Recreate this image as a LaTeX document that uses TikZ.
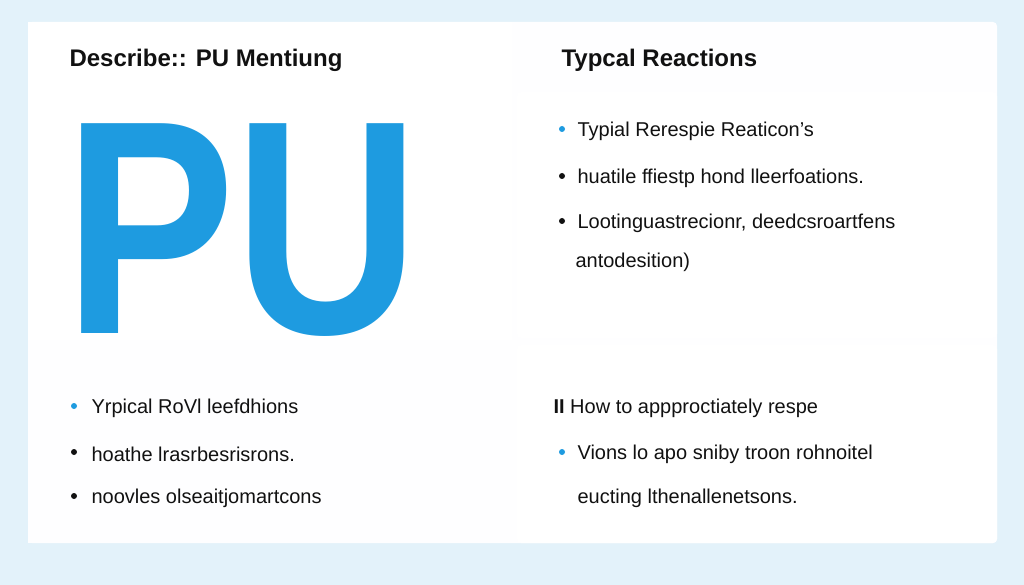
\documentclass[tikz,border=0pt]{standalone}
\usepackage{fontspec}
\setmainfont{Liberation Sans}
\definecolor{bg}{HTML}{E3F2FA}
\definecolor{dot}{HTML}{1E9BE0}
\definecolor{txt}{HTML}{111111}
\tikzset{
 panel/.style={fill=white, draw=none, rounded corners=4pt},
 ttl/.style={anchor=west, font=\bfseries\fontsize{24}{28}\selectfont, text=txt},
 item/.style={anchor=west, font=\fontsize{20}{24}\selectfont, text=txt},
 bul/.style={circle, fill=#1, inner sep=0pt, minimum size=6pt}
}
\begin{document}
\begin{tikzpicture}[x=1pt,y=-1pt]
\useasboundingbox (0,0) rectangle (1024,585);
\fill[bg] (0,0) rectangle (1024,585);
\fill[panel, fill=white!96!bg] (28,22) rectangle (997,543);
\fill[white] (28,22) rectangle (512,340);
\fill[white!97!bg] (28,345) rectangle (512,543);
\fill[panel] (517,92) rectangle (997,338);
\fill[panel] (517,345) rectangle (997,543);
\node[ttl] (t1) at (66,60) {Describe:: PU Mentiung};
\node[ttl] (t2) at (558,60) {Typcal Reactions};
\node[anchor=center, font=\bfseries\fontsize{305}{305}\selectfont, xscale=0.84, text=dot] (pu) at (242,230) {PU};
% right top
\node[bul=dot] (b1) at (562,129) {};
\node[item] (i1) at (574,131) {Typial Rerespie Reaticon's};
\node[bul=txt] (b2) at (562,176) {};
\node[item] (i2) at (574,178) {huatile ffiestp hond lleerfoations.};
\node[bul=txt] (b3) at (562,221) {};
\node[item] (i3) at (574,223) {Lootinguastrecionr, deedcsroartfens};
\node[item] (i3b) at (572,262) {antodesition)};
% left bottom
\node[bul=dot] (b4) at (74,406) {};
\node[item] (i4) at (88,408) {Yrpical RoVl leefdhions};
\node[bul=txt] (b5) at (74,452) {};
\node[item] (i5) at (88,454) {hoathe lrasrbesrisrons.};
\node[bul=txt] (b6) at (74,496) {};
\node[item] (i6) at (88,498) {noovles olseaitjomartcons};
% right bottom
\node[item] (i7) at (550,408) {\textbf{II} How to appproctiately respe};
\node[bul=dot] (b8) at (562,452) {};
\node[item] (i8) at (574,454) {Vions lo apo sniby troon rohnoitel};
\node[item] (i8b) at (574,498) {eucting lthenallenetsons.};
\end{tikzpicture}
\end{document}
